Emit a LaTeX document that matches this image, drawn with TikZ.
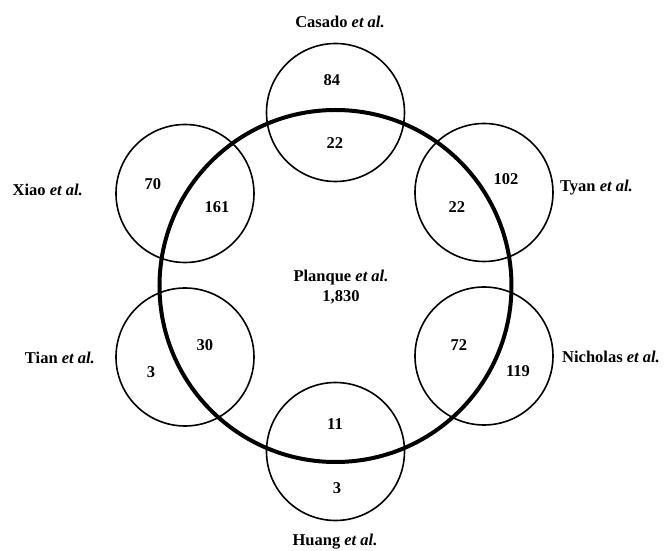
\documentclass[tikz,border=0pt]{standalone}
\usepackage{fontspec}
\setmainfont{Liberation Serif}
\usetikzlibrary{positioning}

\begin{document}
\begin{tikzpicture}[x=1pt, y=1pt,
        every node/.style={font=\fontsize{16.5}{20}\selectfont\bfseries},
        setc/.style={circle, draw, line width=1.6pt, minimum size=138pt, inner sep=0pt},
        mainc/.style={circle, draw, line width=4pt, minimum size=352pt, inner sep=0pt},
        cnt/.style={inner sep=0pt},
        lbl/.style={inner sep=0pt}
      ]
        \useasboundingbox (-335.5,-265) rectangle (329.5,286);
        % study circles
        \foreach \n/\p in {casado/{(0,173.5)}, xiao/{(-150.5,92.5)}, tyan/{(148.5,93.5)},
                           tian/{(-150.5,-71)}, nicholas/{(148.5,-70)}, huang/{(0,-165.5)}}
          { \node[setc] (\n) at \p {}; }
        \node[mainc] (planque) at (0,0) {};
        % counts
        \node[cnt] (c84) at (-3.5,206) {84};
        \node[cnt] (c22a) at (-0.5,143) {22};
        \node[cnt] (c70) at (-182.5,102) {70};
        \node[cnt] (c161) at (-118.5,79) {161};
        \node[cnt] (c102) at (170.5,107) {102};
        \node[cnt] (c22b) at (121.5,79) {22};
        \node[cnt] (c30) at (-130.5,-59) {30};
        \node[cnt] (c3a) at (-184.5,-86) {3};
        \node[cnt] (c72) at (123.5,-59) {72};
        \node[cnt] (c119) at (182.5,-85) {119};
        \node[cnt] (c11) at (-0.5,-138) {11};
        \node[cnt] (c3b) at (1.5,-202) {3};
        \node[cnt, align=center] (cmain) at (5.5,-1) {Planque \textit{et al.}\\1,830};
        % study names
        \node[lbl] (lcasado) at (4.5,264) {Casado \textit{et al.}};
        \node[lbl, anchor=east] (lxiao) at (-252.5,96) {Xiao \textit{et al.}};
        \node[lbl, anchor=west] (ltyan) at (224.5,98) {Tyan \textit{et al.}};
        \node[lbl, anchor=east] (ltian) at (-240.5,-72) {Tian \textit{et al.}};
        \node[lbl, anchor=west] (lnicholas) at (226.5,-71) {Nicholas \textit{et al.}};
        \node[lbl] (lhuang) at (-0.5,-256) {Huang \textit{et al.}};
      \end{tikzpicture}
\end{document}
